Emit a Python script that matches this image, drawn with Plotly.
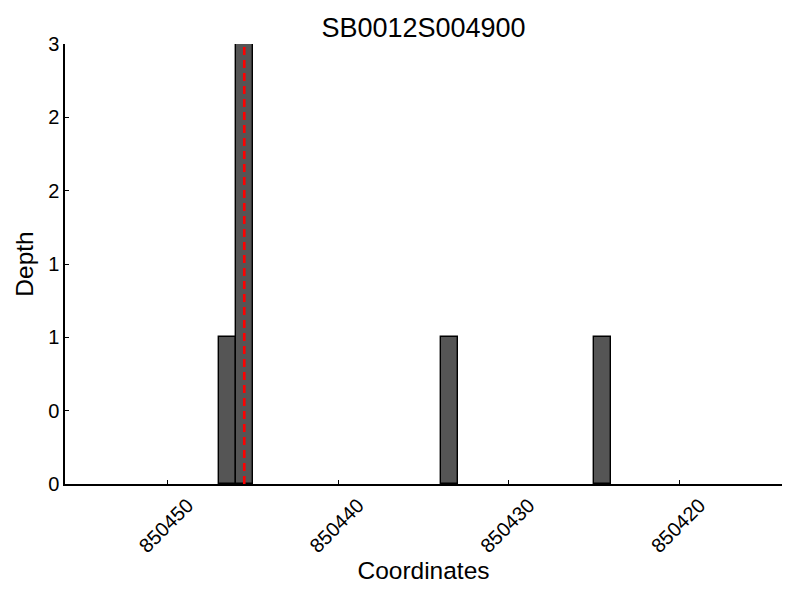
import plotly.graph_objects as go

# Data
bar_centers = [850446.5, 850445.5, 850433.5, 850424.5]
depths = [1, 3, 1, 1]
marker_pos = 850445.5
x_tickvals = [850450, 850440, 850430, 850420]
x_ticktext = ["850450", "850440", "850430", "850420"]
y_tickvals = [0, 0.5, 1, 1.5, 2, 2.5, 3]
y_ticktext = ["0", "0", "1", "1", "2", "2", "3"]
title_text = "SB0012S004900"

fig = go.Figure()
fig.add_trace(go.Bar(
    x=bar_centers, y=depths, width=[1] * len(bar_centers),
    marker=dict(color="#555555", line=dict(color="black", width=1.4)),
    showlegend=False,
))
fig.add_trace(go.Scatter(
    x=[marker_pos, marker_pos], y=[0, 3], mode="lines",
    line=dict(color="#ff0000", width=2.6, dash="8px,5px"), showlegend=False,
))

fig.update_layout(
    width=800, height=600,
    margin=dict(l=57, r=26, t=36, b=124, autoexpand=False),
    paper_bgcolor="white", plot_bgcolor="white",
    font=dict(family="Liberation Sans, Arial, sans-serif", color="black", size=20),
    title=dict(text=title_text, xref="paper", x=0.5, xanchor="center",
               yref="container", y=0.967, yanchor="middle",
               font=dict(size=27)),
    bargap=0,
)
fig.update_xaxes(
    range=[850456, 850414], tickvals=x_tickvals, ticktext=x_ticktext,
    tickangle=-45, ticks="inside", ticklen=4, tickcolor="black",
    ticklabelshift=-20,
    showline=True, linecolor="black", linewidth=1.5, showgrid=False, zeroline=False,
    title=dict(text="Coordinates", font=dict(size=24.5), standoff=0),
    tickfont=dict(size=20), automargin=False,
)
fig.update_yaxes(
    range=[0, 3], tickvals=y_tickvals, ticktext=y_ticktext,
    ticks="inside", ticklen=4, tickcolor="black",
    showline=True, linecolor="black", linewidth=1.5, showgrid=False, zeroline=False,
    title=dict(text="Depth", font=dict(size=24.5), standoff=8),
    tickfont=dict(size=20), automargin=False,
)

fig.write_html("out.html")
